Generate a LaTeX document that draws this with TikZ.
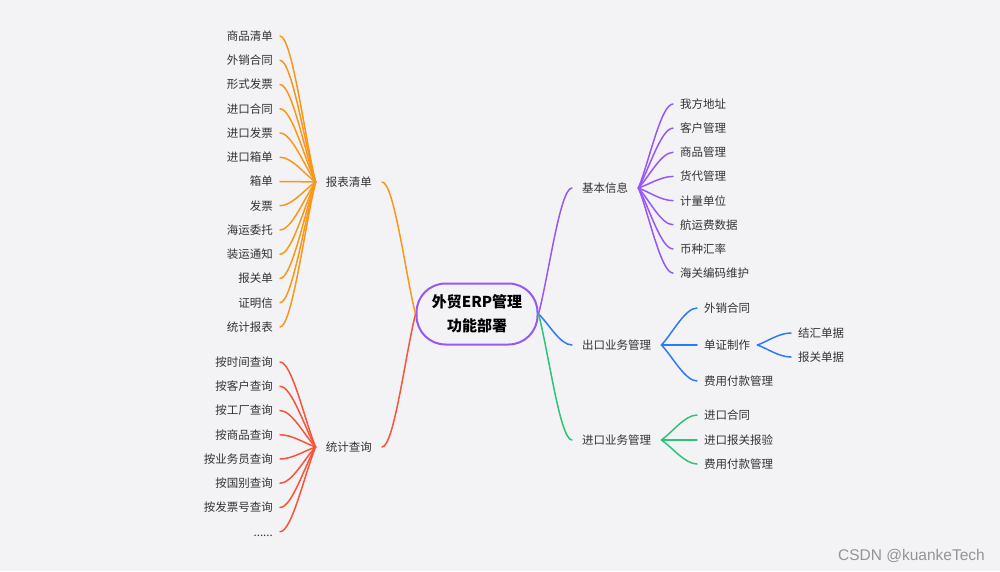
\documentclass[tikz,border=0pt]{standalone}
\usepackage{fontspec}
\setmainfont{Noto Sans CJK SC}
\newfontfamily\markfont{Liberation Sans}
\usepackage{xcolor}
\usepackage{tikz}
\usetikzlibrary{positioning, calc}

\definecolor{bgcol}{RGB}{243,243,246}
\definecolor{txtcol}{RGB}{51,51,51}
\definecolor{ordcol}{RGB}{247,152,28}
\definecolor{stacol}{RGB}{247,84,56}
\definecolor{infcol}{RGB}{151,88,245}
\definecolor{expcol}{RGB}{46,122,246}
\definecolor{impcol}{RGB}{45,196,120}
\newcommand{\moredots}{\vphantom{按}......}

\begin{document}
\begin{tikzpicture}[x=1pt, y=-1pt, line cap=round]
    \tikzstyle{root} = [rectangle, rounded corners=29pt, draw=infcol, line width=2pt, minimum width=121pt, minimum height=61pt, align=center, text=black, font=\fontsize{15}{24}\selectfont\bfseries]
    \tikzstyle{branch} = [inner xsep=10pt, inner ysep=2pt, text=txtcol, font=\fontsize{11.5}{14}\selectfont]
    \tikzstyle{leaf} = [inner xsep=7pt, inner ysep=2pt, text=txtcol, font=\fontsize{11.5}{14}\selectfont]
    \tikzstyle{link} = [line width=1.5pt]

    % Background and frame
    \fill[bgcol] (0,0) rectangle (1000,571);

    \node (root) [root] at (477,314) {外贸ERP管理\\功能部署};

    % Left branches
    \node (bbqd) [branch, anchor=east] at (382,182) {报表清单};
    \node (tjcx) [branch, anchor=east] at (382,447) {统计查询};
    \draw[link, ordcol] (root.west) .. controls ($(root.west)!0.3!(bbqd.east)$) and ([xshift=12pt]bbqd.east) .. (bbqd.east);
    \draw[link, stacol] (root.west) .. controls ($(root.west)!0.3!(tjcx.east)$) and ([xshift=12pt]tjcx.east) .. (tjcx.east);

    \foreach \name [count=\i] in {商品清单, 外销合同, 形式发票, 进口合同, 进口发票, 进口箱单, 箱单, 发票, 海运委托, 装运通知, 报关单, 证明信, 统计报表} {
        \node (bb\i) [leaf, anchor=east] at (280, {36+24.25*(\i-1)}) {\name};
        \draw[link, ordcol] (bbqd.west) .. controls ($(bbqd.west)!0.3!(bb\i.east)$) and ([xshift=12pt]bb\i.east) .. (bb\i.east);
    }
    \foreach \name [count=\i] in {按时间查询, 按客户查询, 按工厂查询, 按商品查询, 按业务员查询, 按国别查询, 按发票号查询, \moredots} {
        \node (tj\i) [leaf, anchor=east] at (280, {362+24.25*(\i-1)}) {\name};
        \draw[link, stacol] (tjcx.west) .. controls ($(tjcx.west)!0.3!(tj\i.east)$) and ([xshift=12pt]tj\i.east) .. (tj\i.east);
    }

    % Right branches
    \node (jbxx) [branch, anchor=west] at (572,188) {基本信息};
    \node (ckyw) [branch, anchor=west] at (572,345) {出口业务管理};
    \node (jkyw) [branch, anchor=west] at (572,440) {进口业务管理};
    \foreach \n/\c in {jbxx/infcol, ckyw/expcol, jkyw/impcol}
        \draw[link, \c] (root.east) .. controls ($(root.east)!0.3!(\n.west)$) and ([xshift=-12pt]\n.west) .. (\n.west);

    \foreach \name [count=\i] in {我方地址, 客户管理, 商品管理, 货代管理, 计量单位, 航运费数据, 币种汇率, 海关编码维护} {
        \node (jb\i) [leaf, anchor=west] at (673, {104+24.15*(\i-1)}) {\name};
        \draw[link, infcol] (jbxx.east) .. controls ($(jbxx.east)!0.3!(jb\i.west)$) and ([xshift=-12pt]jb\i.west) .. (jb\i.west);
    }

    \node (ckht) [leaf, anchor=west] at (697,308) {外销合同};
    \node (dzzz) [leaf, anchor=west] at (697,345) {单证制作};
    \node (ckfy) [leaf, anchor=west] at (697,381) {费用付款管理};
    \foreach \n in {ckht, dzzz, ckfy}
        \draw[link, expcol] (ckyw.east) .. controls ($(ckyw.east)!0.3!(\n.west)$) and ([xshift=-12pt]\n.west) .. (\n.west);

    \node (jhdj) [leaf, anchor=west] at (791,333) {结汇单据};
    \node (bgdj) [leaf, anchor=west] at (791,357) {报关单据};
    \foreach \n in {jhdj, bgdj}
        \draw[link, expcol] (dzzz.east) .. controls ($(dzzz.east)!0.3!(\n.west)$) and ([xshift=-12pt]\n.west) .. (\n.west);

    \node (jkht) [leaf, anchor=west] at (697,415) {进口合同};
    \node (jkbg) [leaf, anchor=west] at (697,440) {进口报关报验};
    \node (jkfy) [leaf, anchor=west] at (697,464) {费用付款管理};
    \foreach \n in {jkht, jkbg, jkfy}
        \draw[link, impcol] (jkyw.east) .. controls ($(jkyw.east)!0.3!(\n.west)$) and ([xshift=-12pt]\n.west) .. (\n.west);

    % Watermark
    \node (mark) [anchor=east, inner sep=0pt, text=black!42, font=\markfont\fontsize{15.5}{18}\selectfont] at (985,556) {CSDN @kuankeTech};
\end{tikzpicture}
\end{document}
